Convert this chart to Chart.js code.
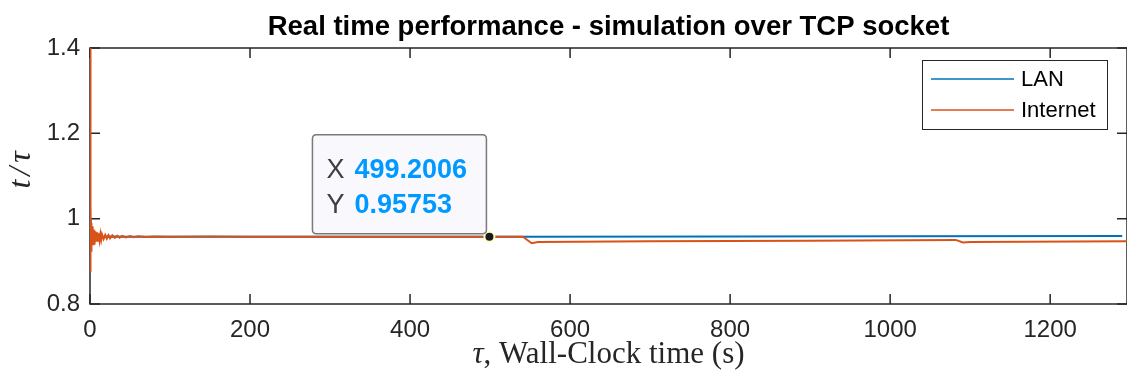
<!DOCTYPE html>
<html>
<head>
<meta charset="utf-8">
<script src="https://cdn.jsdelivr.net/npm/chart.js@4.4.1/dist/chart.umd.min.js"></script>
<style>
  html, body { margin: 0; padding: 0; background: #fff; }
  #wrap { width: 1127px; height: 376px; position: relative; }
</style>
</head>
<body>
<div id="wrap"><canvas id="perfChart"></canvas></div>
<script>
// Internet run (orange) - wall-clock time and t/tau ratio
const netTime = [0, 0.3, 0.6, 1.0, 1.3, 1.6, 2.0, 2.5, 3.0, 3.5, 4.0, 4.5, 5.0, 5.5, 6.0, 7, 8, 9, 10, 11, 12, 13, 14, 15,
  17, 19, 21, 23, 25, 28, 31, 34, 37, 40, 45, 50, 55, 60, 70, 80, 100, 150, 200, 300, 400, 499.2006,
  541, 552, 560, 700, 900, 1082, 1091, 1100, 1300];
const netRatio = [1.40, 0.96, 0.875, 1.035, 0.925, 0.99, 0.935, 0.982, 0.938, 0.978, 0.940, 0.975, 0.942, 0.972, 0.944,
  0.970, 0.946, 0.968, 0.948, 0.966, 0.950, 0.964, 0.951, 0.963, 0.952, 0.962, 0.953, 0.9615, 0.954, 0.961, 0.955,
  0.960, 0.9555, 0.9595, 0.956, 0.959, 0.9565, 0.9585, 0.957, 0.9582, 0.9578, 0.958, 0.9578, 0.9577, 0.9576, 0.95753,
  0.9575, 0.9425, 0.9455, 0.9468, 0.9485, 0.9502, 0.944, 0.9452, 0.9472];

// LAN run (blue)
const lanTime = [0, 0.4, 0.8, 1.2, 1.8, 2.5, 3.5, 5, 8, 12, 20, 50, 200, 540, 800, 1000, 1290];
const lanRatio = [1.0, 0.945, 0.975, 0.95, 0.965, 0.953, 0.961, 0.955, 0.9595, 0.9565, 0.958, 0.9578, 0.9577,
  0.9576, 0.958, 0.9585, 0.9592];

// data tip
const tipTime = [499.2006];
const tipRatio = [0.95753];

const yTicks = [0.8, 1, 1.2, 1.4];
const seriesLabels = ['LAN', 'Internet'];
const seriesColors = ['#0072BD', '#D95319'];

const toPoints = (xs, ys) => xs.map((x, i) => ({ x: x, y: ys[i] }));

const AX = '#262626';
const SANS = '"Liberation Sans", Arial, sans-serif';
const SERIF = '"Liberation Serif", "Times New Roman", serif';

const framePlugin = {
  id: 'frame',
  beforeDatasetsDraw(chart) {
    const { ctx, chartArea: a, scales } = chart;
    ctx.save();
    ctx.strokeStyle = AX;
    ctx.lineWidth = 1.5;
    ctx.strokeRect(a.left, a.top, a.right - a.left, a.bottom - a.top);
    // inward ticks on all four sides
    ctx.beginPath();
    scales.x.ticks.forEach(t => {
      const px = scales.x.getPixelForValue(t.value);
      ctx.moveTo(px, a.bottom); ctx.lineTo(px, a.bottom - 10);
      ctx.moveTo(px, a.top); ctx.lineTo(px, a.top + 10);
    });
    scales.y.ticks.forEach(t => {
      const py = scales.y.getPixelForValue(t.value);
      ctx.moveTo(a.left, py); ctx.lineTo(a.left + 10, py);
      ctx.moveTo(a.right, py); ctx.lineTo(a.right - 10, py);
    });
    ctx.stroke();
    ctx.restore();
  },
  afterDraw(chart) {
    const { ctx, chartArea: a, scales } = chart;
    ctx.save();

    // title
    ctx.fillStyle = '#000';
    ctx.font = 'bold 27.5px ' + SANS;
    ctx.textAlign = 'center';
    ctx.textBaseline = 'alphabetic';
    ctx.fillText('Real time performance - simulation over TCP socket', (a.left + a.right) / 2, 35);

    // x axis title, tau in italic
    ctx.fillStyle = AX;
    const tauFont = 'italic 31px ' + SERIF;
    const restFont = '31px ' + SERIF;
    const rest = ', Wall-Clock time (s)';
    ctx.font = tauFont;
    const wTau = ctx.measureText('τ').width;
    ctx.font = restFont;
    const wRest = ctx.measureText(rest).width;
    let sx = (a.left + a.right) / 2 - (wTau + wRest) / 2;
    ctx.textAlign = 'left';
    ctx.font = tauFont;
    ctx.fillText('τ', sx, 363);
    ctx.font = restFont;
    ctx.fillText(rest, sx + wTau, 363);

    // y axis title t/tau, rotated
    ctx.save();
    ctx.translate(30, (a.top + a.bottom) / 2 - 6);
    ctx.rotate(-Math.PI / 2);
    ctx.font = 'italic 32px ' + SERIF;
    const parts = ['t', '/', 'τ'];
    const gap = 4;
    const widths = parts.map(p => ctx.measureText(p).width);
    const total = widths.reduce((s, w) => s + w, 0) + gap * 2;
    let cx = -total / 2;
    parts.forEach((p, i) => { ctx.fillText(p, cx, 0); cx += widths[i] + gap; });
    ctx.restore();

    // legend box
    const lx = a.right - 205, ly = a.top + 12, lw = 185, lh = 69;
    ctx.fillStyle = '#fff';
    ctx.fillRect(lx, ly, lw, lh);
    ctx.strokeStyle = AX;
    ctx.lineWidth = 1;
    ctx.strokeRect(lx + 0.5, ly + 0.5, lw, lh);
    ctx.font = '22px ' + SANS;
    ctx.textAlign = 'left';
    ctx.textBaseline = 'middle';
    seriesLabels.forEach((lab, i) => {
      const yy = ly + 19 + i * 31;
      ctx.strokeStyle = seriesColors[i];
      ctx.lineWidth = 1.5;
      ctx.beginPath();
      ctx.moveTo(lx + 9, yy); ctx.lineTo(lx + 92, yy);
      ctx.stroke();
      ctx.fillStyle = '#000';
      ctx.fillText(lab, lx + 99, yy + 1);
    });

    // data tip box
    const px = scales.x.getPixelForValue(tipTime[0]);
    const py = scales.y.getPixelForValue(tipRatio[0]);
    const bx = px - 177, by = py - 102, bw = 174, bh = 99, r = 4;
    ctx.beginPath();
    ctx.moveTo(bx + r, by);
    ctx.lineTo(bx + bw - r, by);
    ctx.quadraticCurveTo(bx + bw, by, bx + bw, by + r);
    ctx.lineTo(bx + bw, by + bh - r);
    ctx.quadraticCurveTo(bx + bw, by + bh, bx + bw - r, by + bh);
    ctx.lineTo(bx + r, by + bh);
    ctx.quadraticCurveTo(bx, by + bh, bx, by + bh - r);
    ctx.lineTo(bx, by + r);
    ctx.quadraticCurveTo(bx, by, bx + r, by);
    ctx.closePath();
    ctx.fillStyle = '#F8F8FD';
    ctx.fill();
    ctx.strokeStyle = '#7a7a7a';
    ctx.lineWidth = 1.5;
    ctx.stroke();

    ctx.textBaseline = 'alphabetic';
    ctx.textAlign = 'left';
    const rows = [['X', tipTime[0].toFixed(4)], ['Y', String(tipRatio[0])]];
    rows.forEach((row, i) => {
      const yy = by + 43 + i * 35;
      ctx.fillStyle = '#404040';
      ctx.font = '27px ' + SANS;
      ctx.fillText(row[0], bx + 14, yy);
      ctx.fillStyle = '#0099FF';
      ctx.font = 'bold 27px ' + SANS;
      ctx.fillText(row[1], bx + 42, yy);
    });

    ctx.restore();
  }
};

const ctx = document.getElementById('perfChart').getContext('2d');

const chart = new Chart(ctx, {
  type: 'line',
  data: {
    datasets: [
      {
        label: 'data tip',
        data: toPoints(tipTime, tipRatio),
        showLine: false,
        pointRadius: 5,
        pointBorderWidth: 2,
        pointBackgroundColor: '#1a1a1a',
        pointBorderColor: '#FFFFC8',
        order: 0
      },
      {
        label: seriesLabels[1],
        data: toPoints(netTime, netRatio),
        borderColor: seriesColors[1],
        borderWidth: 2,
        pointRadius: 0,
        tension: 0,
        order: 1
      },
      {
        label: seriesLabels[0],
        data: toPoints(lanTime, lanRatio),
        borderColor: seriesColors[0],
        borderWidth: 2,
        pointRadius: 0,
        tension: 0,
        order: 2
      }
    ]
  },
  options: {
    responsive: true,
    maintainAspectRatio: false,
    animation: false,
    events: [],
    layout: { autoPadding: false, padding: { top: 48, left: 0, right: 0, bottom: 0 } },
    plugins: {
      legend: { display: false },
      title: { display: false },
      tooltip: { enabled: false }
    },
    scales: {
      x: {
        type: 'linear',
        min: 0,
        max: 1296,
        grid: { display: false, drawTicks: false },
        border: { display: false },
        ticks: {
          stepSize: 200,
          includeBounds: false,
          padding: 12,
          color: AX,
          font: { family: SANS, size: 24 },
          maxRotation: 0,
          callback: v => String(v)
        },
        afterFit(scale) {
          scale.height = 72;
          scale.paddingLeft = 0;
          scale.paddingRight = 0;
        }
      },
      y: {
        min: 0.8,
        max: 1.4,
        grid: { display: false, drawTicks: false },
        border: { display: false },
        afterBuildTicks(scale) { scale.ticks = yTicks.map(v => ({ value: v })); },
        ticks: {
          padding: 10,
          color: AX,
          font: { family: SANS, size: 24 },
          callback: v => String(v)
        },
        afterFit(scale) { scale.width = 90; }
      }
    }
  },
  plugins: [framePlugin]
});
</script>
</body>
</html>
